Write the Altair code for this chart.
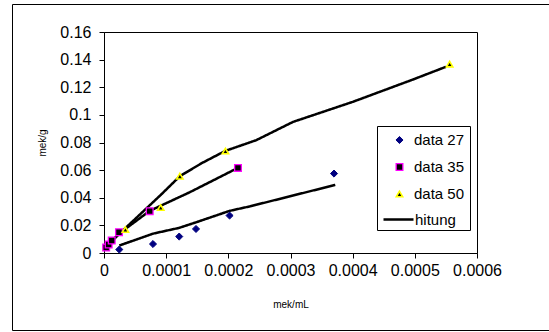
import altair as alt
import pandas as pd

# measured data points
x27 = [0.0000246, 0.0000788, 0.000121, 0.000148, 0.000202, 0.00037]
y27 = [0.0025, 0.0065, 0.0119, 0.0174, 0.0271, 0.0575]

x35 = [0.0000035, 0.0000075, 0.0000124, 0.0000241, 0.0000735, 0.0002155]
y35 = [0.0040, 0.0062, 0.0090, 0.0150, 0.0303, 0.0616]

x50 = [0.0000344, 0.0000912, 0.000122, 0.0001953, 0.000556]
y50 = [0.0170, 0.0329, 0.0556, 0.0738, 0.1367]

# calculated ("hitung") curves
l27x = [0.0000246, 0.0000788, 0.000121, 0.000148, 0.000202, 0.000235, 0.000372]
l27y = [0.0054, 0.0140, 0.0182, 0.0222, 0.0305, 0.0338, 0.0493]

l35x = [0.0000035, 0.0000075, 0.0000124, 0.0000241, 0.0000735, 0.000138, 0.00021]
l35y = [0.0035, 0.0060, 0.0085, 0.0140, 0.0305, 0.0440, 0.0604]

l50x = [0.000003, 0.0000344, 0.0000912, 0.000122, 0.000157, 0.000195, 0.000245,
        0.000304, 0.0004, 0.000497, 0.00055]
l50y = [0.0047, 0.0180, 0.0420, 0.0556, 0.0650, 0.0739, 0.0817,
        0.0949, 0.1094, 0.1256, 0.1348]

series = ["data 27", "data 35", "data 50"]
line_name = ["hitung"]
x_ticks = [0, 0.0001, 0.0002, 0.0003, 0.0004, 0.0005, 0.0006]
y_ticks = [0, 0.02, 0.04, 0.06, 0.08, 0.1, 0.12, 0.14, 0.16]

pts = pd.DataFrame(
    [{"x": a, "y": b, "series": "data 27"} for a, b in zip(x27, y27)]
    + [{"x": a, "y": b, "series": "data 35"} for a, b in zip(x35, y35)]
    + [{"x": a, "y": b, "series": "data 50"} for a, b in zip(x50, y50)]
)
lines = pd.DataFrame(
    [{"x": a, "y": b, "curve": "27", "i": i, "kind": "hitung"} for i, (a, b) in enumerate(zip(l27x, l27y))]
    + [{"x": a, "y": b, "curve": "35", "i": i, "kind": "hitung"} for i, (a, b) in enumerate(zip(l35x, l35y))]
    + [{"x": a, "y": b, "curve": "50", "i": i, "kind": "hitung"} for i, (a, b) in enumerate(zip(l50x, l50y))]
)

FONT = "Liberation Sans"

xaxis = alt.Axis(title="mek/mL", values=x_ticks, labelOverlap=False, labelFlush=False,
                 format=".4~f", grid=False, tickSize=5, labelPadding=4,
                 labelFontSize=16, labelFont=FONT, labelColor="black",
                 titleFontSize=10, titleFont=FONT, titleFontWeight="normal",
                 titleColor="black", titleX=186.5, titleY=51,
                 titleBaseline="middle", domainColor="black", tickColor="black")
yaxis = alt.Axis(title="mek/g", values=y_ticks, labelOverlap=False, labelFlush=False,
                 format=".2~f", grid=False, tickSize=5, labelPadding=8,
                 labelFontSize=16, labelFont=FONT, labelColor="black",
                 titleFontSize=10, titleFont=FONT, titleFontWeight="normal",
                 titleColor="black", titleX=-62, titleY=110.5, titleAngle=-90,
                 titleAlign="center", titleBaseline="middle",
                 domainColor="black", tickColor="black")
xscale = alt.Scale(domain=[0, 0.0006], nice=False)
yscale = alt.Scale(domain=[0, 0.16], nice=False)

line_layer = alt.Chart(lines).mark_line(color="black", strokeWidth=2.5).encode(
    x=alt.X("x:Q", scale=xscale, axis=xaxis),
    y=alt.Y("y:Q", scale=yscale, axis=yaxis),
    detail="curve:N", order="i:Q",
    strokeDash=alt.StrokeDash("kind:N", scale=alt.Scale(domain=line_name, range=[[1, 0]]),
                              legend=alt.Legend(title=None, orient="none", legendX=278, legendY=171,
                                                symbolType="stroke", symbolSize=900,
                                                symbolStrokeWidth=2.5, symbolStrokeColor="black",
                                                labelFontSize=15, labelFont=FONT, labelColor="black",
                                                labelOffset=0, padding=0)),
)

leg = alt.Legend(title=None, orient="none", legendX=288, legendY=100.5,
                 padding=0, labelFontSize=15, labelFont=FONT, labelColor="black",
                 labelOffset=7, rowPadding=11, symbolOpacity=1, symbolStrokeWidth=1.5)

point_layer = alt.Chart(pts).mark_point(filled=False, opacity=1).encode(
    x=alt.X("x:Q", scale=xscale, axis=xaxis),
    y=alt.Y("y:Q", scale=yscale, axis=yaxis),
    shape=alt.Shape("series:N", scale=alt.Scale(domain=series, range=["diamond", "square", "triangle-up"]), legend=leg),
    fill=alt.Fill("series:N", scale=alt.Scale(domain=series, range=["#000080", "#000000", "#000000"]), legend=leg),
    stroke=alt.Stroke("series:N", scale=alt.Scale(domain=series, range=["#000080", "#FF00FF", "#FFFF00"]), legend=leg),
    size=alt.Size("series:N", scale=alt.Scale(domain=series, range=[50, 40, 72]), legend=leg),
    strokeWidth=alt.StrokeWidth("series:N", scale=alt.Scale(domain=series, range=[1, 1.6, 1.8]), legend=leg),
)

legend_box = alt.Chart(alt.Data(values=[{}])).mark_rect(fill="white", stroke="black", strokeWidth=1).encode(
    x=alt.value(273.5), x2=alt.value(366.5), y=alt.value(94.5), y2=alt.value(198.5)
)

frame = alt.Chart(alt.Data(values=[{}])).mark_rect(fill=None, fillOpacity=0, stroke="black", strokeWidth=1).encode(
    x=alt.value(-91.5), x2=alt.value(446), y=alt.value(-27.5), y2=alt.value(298.5)
)

chart = alt.layer(line_layer, frame, legend_box, point_layer).properties(
    width=373, height=221,
    autosize=alt.AutoSizeParams(type="none"),
    padding={"left": 104, "top": 32, "right": 72, "bottom": 79},
    background="white",
).configure_view(stroke="black", strokeWidth=1).configure_axis(labelOverlap=False, labelFlush=False)

chart.save("out.html", embed_options={"renderer": "svg", "actions": False})
